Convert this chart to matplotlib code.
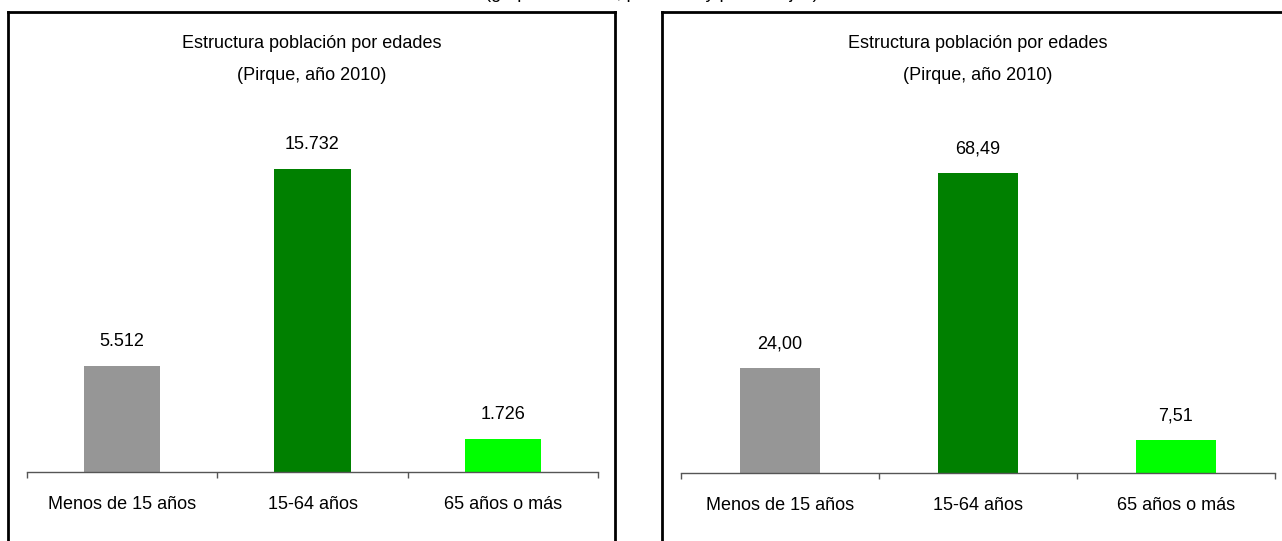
import matplotlib
matplotlib.use("Agg")
import matplotlib.pyplot as plt
from matplotlib.lines import Line2D

plt.rcParams['font.family'] = ['Liberation Sans', 'DejaVu Sans']

# datos
categorias = ["Menos de 15 años", "15-64 años", "65 años o más"]
poblacion = [5512, 15732, 1726]
porcentaje = [24.00, 68.49, 7.51]
colores = ["#969696", "#008000", "#00FF00"]
titulo = ["Estructura población por edades", "(Pirque, año 2010)"]
titulo_cortado = "(grupos de edad, personas y porcentajes)"

W, H = 1282, 541
fig = plt.figure(figsize=(W / 100, H / 100), dpi=100)


def px_axes(x0, x1, y_base, h):
    # convierte pixeles (desde arriba) a coordenadas de figura
    return [x0 / W, (H - y_base) / H, (x1 - x0) / W, h / H]


def dibujar(ax, valores, etiquetas, ymax, cx):
    x = range(len(valores))
    bars = ax.bar(x, valores, width=0.4, color=colores, zorder=2)
    ax.bar_label(bars, labels=etiquetas, padding=11.5, fontsize=13)
    ax.set_xlim(-0.5, len(valores) - 0.5)
    ax.set_ylim(0, ymax)
    for s in ["top", "right", "left"]:
        ax.spines[s].set_visible(False)
    ax.spines["bottom"].set_color("#555555")
    ax.spines["bottom"].set_linewidth(1)
    ax.set_yticks([])
    ax.set_xticks([i - 0.5 for i in range(len(valores) + 1)])
    ax.set_xticklabels([])
    ax.tick_params(axis="x", which="major", length=4, width=1, color="#555555", direction="out")
    ax.set_xticks(list(x), minor=True)
    ax.set_xticklabels(categorias, minor=True, fontsize=13)
    ax.tick_params(axis="x", which="minor", length=0, pad=17.5)
    for txt, ypx in zip(titulo, [44, 75]):
        fig.text(cx / W, 1 - ypx / H, txt, ha="center", va="center", fontsize=13)


ax1 = fig.add_axes(px_axes(27, 598, 472, 347))
dibujar(ax1, poblacion, [f"{v:,}".replace(",", ".") for v in poblacion], 18000, 312)

ax2 = fig.add_axes(px_axes(681, 1275, 473, 350))
dibujar(ax2, porcentaje, [f"{v:.2f}".replace(".", ",") for v in porcentaje], 80, 978)

# marcos de los gráficos
lw = 2
fig.add_artist(Line2D([8 / W, 8 / W], [0, 1 - 12 / H], color="black", lw=lw))
fig.add_artist(Line2D([8 / W, 615 / W], [1 - 12 / H, 1 - 12 / H], color="black", lw=lw))
fig.add_artist(Line2D([615 / W, 615 / W], [0, 1 - 12 / H], color="black", lw=lw))
fig.add_artist(Line2D([662 / W, 662 / W], [0, 1 - 12 / H], color="black", lw=lw))
fig.add_artist(Line2D([662 / W, 1 + 0.01], [1 - 12 / H, 1 - 12 / H], color="black", lw=lw))

# texto superior que queda cortado por el borde (como en la imagen original)
fig.text(652 / W, 1 + 2 / H, titulo_cortado, ha="center", va="baseline", fontsize=13)

fig.savefig("out.png", dpi=100)
